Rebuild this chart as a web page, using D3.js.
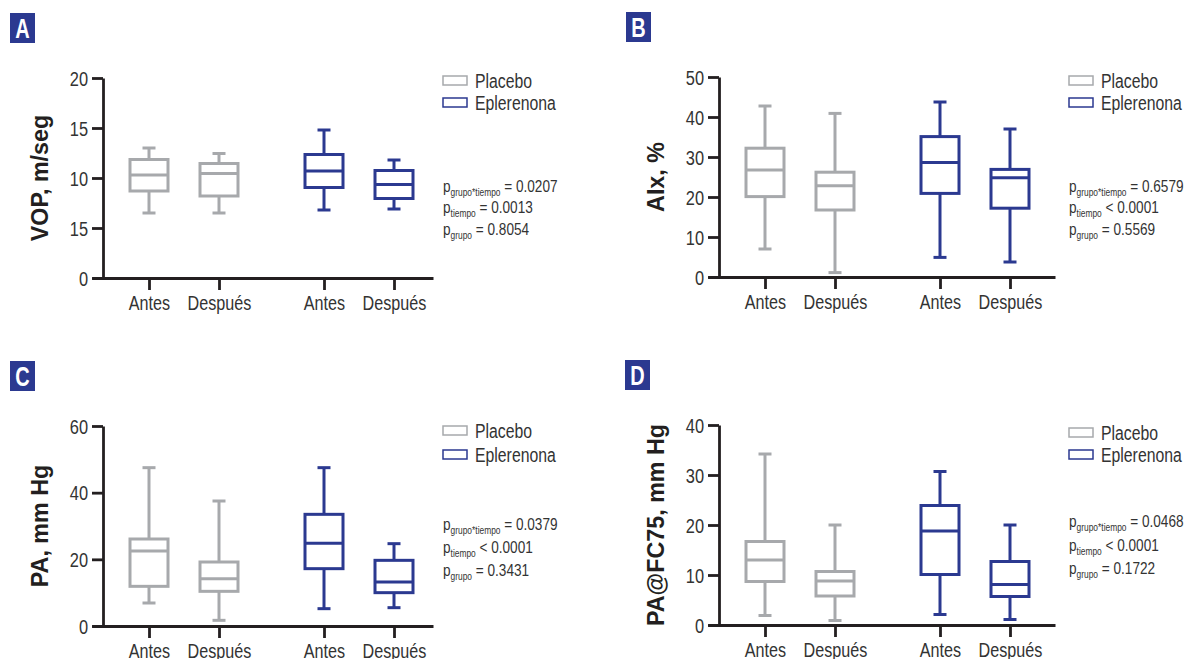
<!DOCTYPE html>
<html>
<head>
<meta charset="utf-8">
<script src="https://cdn.jsdelivr.net/npm/d3@7"></script>
<style>
  body { margin: 0; background: #fff; }
  svg { display: block; }
  text { font-family: "Liberation Sans", Arial, sans-serif; fill: #231f20; }
</style>
</head>
<body>
<svg id="chart" width="1187" height="659"></svg>
<script>
// Categories and groups, in drawing order
var categories = ["Antes", "Después", "Antes", "Después"];
var groups = ["Placebo", "Placebo", "Eplerenona", "Eplerenona"];
var slots = [0, 1, 2.5, 3.5];

// Box stats per box: [min, q1, median, q3, max]
var vopStats  = [[6.5, 8.7, 10.3, 11.85, 13.0], [6.5, 8.2, 10.45, 11.45, 12.45], [6.8, 9.05, 10.7, 12.35, 14.8], [6.9, 7.95, 9.35, 10.75, 11.8]];
var aixStats  = [[7.0, 20.1, 26.75, 32.2, 42.75], [1.1, 16.75, 22.8, 26.2, 40.9], [4.9, 20.9, 28.6, 35.1, 43.75], [3.75, 17.2, 24.8, 26.9, 37.0]];
var paStats   = [[6.9, 11.9, 22.5, 26.1, 47.5], [1.7, 10.4, 14.2, 19.2, 37.5], [5.2, 17.2, 24.8, 33.5, 47.5], [5.5, 10.0, 13.2, 19.7, 24.7]];
var pafcStats = [[1.9, 8.7, 13.0, 16.7, 34.2], [0.9, 5.8, 8.8, 10.7, 20.0], [2.1, 10.1, 18.8, 23.9, 30.7], [1.1, 5.7, 8.1, 12.7, 20.0]];

// Y tick values and labels (panel A labels are printed as in the original)
var vopTicks = [0, 5, 10, 15, 20];
var vopTickLabels = ["0", "15", "10", "15", "20"];
var aixTicks = [0, 10, 20, 30, 40, 50];
var paTicks = [0, 20, 40, 60];
var pafcTicks = [0, 10, 20, 30, 40];

// p values
var pInteraction = ["= 0.0207", "= 0.6579", "= 0.0379", "= 0.0468"];
var pTiempo = ["= 0.0013", "< 0.0001", "< 0.0001", "< 0.0001"];
var pGrupo = ["= 0.8054", "= 0.5569", "= 0.3431", "= 0.1722"];

var colors = { "Placebo": "#a7a9ac", "Eplerenona": "#2b3990" };
var badgeColor = "#2b3990";

var panels = [
  { letter: "A", label: "VOP, m/seg", stats: vopStats, ticks: vopTicks, tickLabels: vopTickLabels, max: 20,
    axisX: 103, top: 78, bottom: 278, xEnd: 433, badge: [10, 13], legX: 443, legY: [88, 110], pY: [192, 213, 235] },
  { letter: "B", label: "AIx, %", stats: aixStats, ticks: aixTicks, tickLabels: null, max: 50,
    axisX: 719, top: 77, bottom: 277, xEnd: 1055, badge: [626, 12], legX: 1069, legY: [88, 110], pY: [192, 213, 235] },
  { letter: "C", label: "PA, mm Hg", stats: paStats, ticks: paTicks, tickLabels: null, max: 60,
    axisX: 103, top: 426, bottom: 626, xEnd: 433, badge: [10, 361], legX: 443, legY: [438, 462], pY: [530, 553, 576] },
  { letter: "D", label: "PA@FC75, mm Hg", stats: pafcStats, ticks: pafcTicks, tickLabels: null, max: 40,
    axisX: 719, top: 425, bottom: 625, xEnd: 1055, badge: [625, 360], legX: 1069, legY: [440, 462], pY: [527, 551, 574] }
];

// Squeeze text horizontally to imitate the condensed face of the original
function condense(sel, f) {
  sel.each(function () {
    var len = this.getComputedTextLength();
    d3.select(this)
      .attr("textLength", len * f)
      .attr("lengthAdjust", "spacingAndGlyphs");
  });
}

var svg = d3.select("#chart");

panels.forEach(function (p, pi) {
  var g = svg.append("g");

  // Badge with panel letter
  g.append("rect")
    .attr("x", p.badge[0]).attr("y", p.badge[1])
    .attr("width", 25).attr("height", 30)
    .style("fill", badgeColor);
  g.append("text")
    .attr("x", p.badge[0] + 12.5).attr("y", p.badge[1] + 24.5)
    .attr("text-anchor", "middle")
    .style("font-size", "27px").style("font-weight", "bold")
    .style("fill", "#fff")
    .text(p.letter)
    .call(condense, 0.74);

  var y = d3.scaleLinear().domain([0, p.max]).range([p.bottom, p.top]);
  var unit = 70;
  var x = d3.scaleLinear()
    .domain([-57 / unit, (p.xEnd - p.axisX - 46) / unit])
    .range([p.axisX - 11, p.xEnd]);

  // Y axis
  var yAxis = d3.axisLeft(y)
    .tickValues(p.ticks)
    .tickSize(11)
    .tickSizeOuter(0)
    .tickPadding(4)
    .tickFormat(function (d, i) { return p.tickLabels ? p.tickLabels[i] : d; });
  var ya = g.append("g").attr("transform", "translate(" + p.axisX + ",0)").call(yAxis);
  ya.selectAll("path, line").style("stroke", "#231f20").style("stroke-width", 2.8);
  ya.selectAll("text")
    .style("font-size", "20px").style("fill", "#333").attr("dy", "0.36em")
    .call(condense, 0.82);

  // X axis
  var xAxis = d3.axisBottom(x)
    .tickValues(slots)
    .tickSize(12)
    .tickSizeOuter(0)
    .tickPadding(5)
    .tickFormat(function (d, i) { return categories[i]; });
  var xa = g.append("g").attr("transform", "translate(0," + p.bottom + ")").call(xAxis);
  xa.selectAll("path, line").style("stroke", "#231f20").style("stroke-width", 2.8);
  xa.selectAll("text")
    .style("font-size", "21px").style("fill", "#333")
    .call(condense, 0.77);
  svg.selectAll(".tick text").attr("font-family", null);

  // Y axis title
  g.append("text")
    .attr("transform", "translate(" + (p.axisX - 55) + "," + ((p.top + p.bottom) / 2) + ") rotate(-90)")
    .attr("text-anchor", "middle")
    .style("font-size", "24px").style("font-weight", "bold")
    .text(p.label)
    .call(condense, 0.97);

  // Boxes
  var boxW = 38, capW = 13;
  var boxes = g.selectAll(".box")
    .data(p.stats)
    .enter()
    .append("g")
      .attr("class", "box");
  boxes.each(function (d, i) {
    var b = d3.select(this);
    var cx = x(slots[i]);
    var col = colors[groups[i]];
    b.append("line")
      .attr("x1", cx).attr("x2", cx)
      .attr("y1", y(d[0])).attr("y2", y(d[4]));
    b.append("line")
      .attr("x1", cx - capW / 2).attr("x2", cx + capW / 2)
      .attr("y1", y(d[0])).attr("y2", y(d[0]));
    b.append("line")
      .attr("x1", cx - capW / 2).attr("x2", cx + capW / 2)
      .attr("y1", y(d[4])).attr("y2", y(d[4]));
    b.append("rect")
      .attr("x", cx - boxW / 2).attr("width", boxW)
      .attr("y", y(d[3])).attr("height", y(d[1]) - y(d[3]))
      .style("fill", "#fff");
    b.append("line")
      .attr("x1", cx - boxW / 2).attr("x2", cx + boxW / 2)
      .attr("y1", y(d[2])).attr("y2", y(d[2]));
    b.selectAll("line, rect")
      .style("stroke", col)
      .style("stroke-width", 3);
  });

  // Legend
  ["Placebo", "Eplerenona"].forEach(function (name, li) {
    g.append("rect")
      .attr("x", p.legX).attr("y", p.legY[li] - 12)
      .attr("width", 24).attr("height", 9)
      .style("fill", "#fff")
      .style("stroke", colors[name])
      .style("stroke-width", 1.5);
    g.append("text")
      .attr("x", p.legX + 32).attr("y", p.legY[li])
      .style("font-size", "20px").style("fill", "#333")
      .text(name)
      .call(condense, 0.79);
  });

  // p values, squeezed with a transform because of the subscripts
  var pRows = [["grupo*tiempo", pInteraction[pi]], ["tiempo", pTiempo[pi]], ["grupo", pGrupo[pi]]];
  pRows.forEach(function (r, ri) {
    var t = g.append("g")
      .attr("transform", "translate(" + p.legX + "," + p.pY[ri] + ") scale(0.8,1)")
      .append("text")
      .style("font-size", "17px").style("fill", "#333");
    t.append("tspan").text("p");
    t.append("tspan").attr("dy", 4).style("font-size", "10.5px").text(r[0]);
    t.append("tspan").attr("dy", -4).text(" " + r[1]);
  });
});
</script>
</body>
</html>
